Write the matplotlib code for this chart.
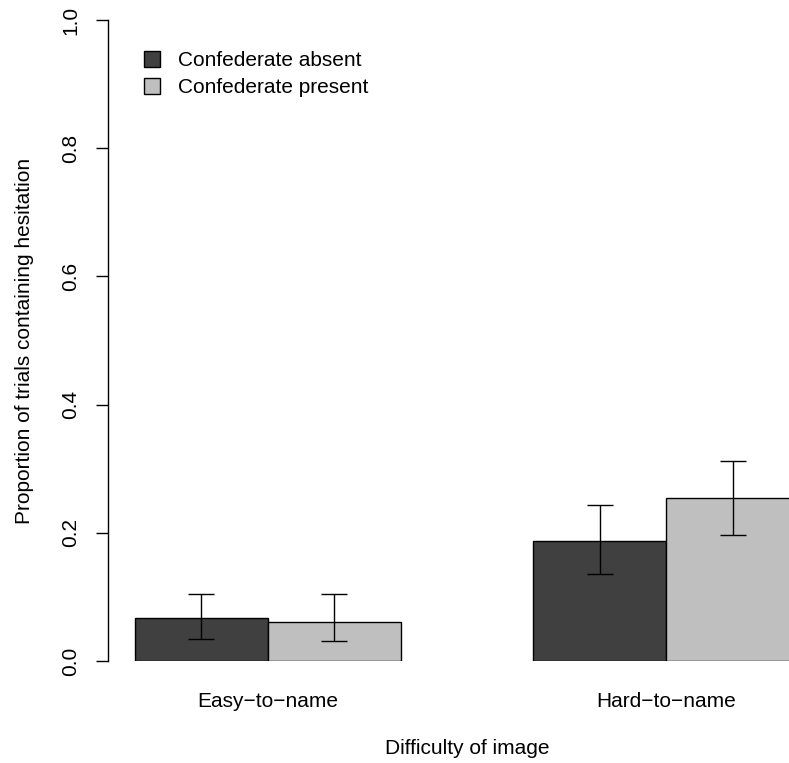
import matplotlib
matplotlib.use("Agg")
import matplotlib.pyplot as plt
from matplotlib.patches import Patch
import numpy as np

plt.rcParams['font.family'] = ['Liberation Sans', 'DejaVu Sans']

categories = ["Easy\u2212to\u2212name", "Hard\u2212to\u2212name"]
series_names = ["Confederate absent", "Confederate present"]
absent = [0.067, 0.187]
present = [0.061, 0.254]
absent_lo = [0.035, 0.135]
absent_hi = [0.104, 0.244]
present_lo = [0.031, 0.197]
present_hi = [0.104, 0.312]
yticks = [0.0, 0.2, 0.4, 0.6, 0.8, 1.0]
colors = ["#404040", "#bfbfbf"]

W, H = 789, 763
fig = plt.figure(figsize=(W / 100, H / 100), dpi=100)

# plot region in pixels (R-style barplot with 4% x extension)
left_px, right_px = 108, 826
top_px, bottom_px = 20, 661
ax = fig.add_axes([left_px / W, 1 - bottom_px / H,
                   (right_px - left_px) / W, (bottom_px - top_px) / H])

# barplot(beside=TRUE) layout: width 1, space c(0, 1)
group_left = np.array([1.0, 4.0])
x_abs = group_left + 0.5
x_pre = group_left + 1.5

ax.bar(x_abs, absent, width=1.0, color=colors[0], edgecolor="black", linewidth=1.0, zorder=2)
ax.bar(x_pre, present, width=1.0, color=colors[1], edgecolor="black", linewidth=1.0, zorder=2)

for xs, vals, lo, hi in [(x_abs, absent, absent_lo, absent_hi),
                         (x_pre, present, present_lo, present_hi)]:
    vals = np.array(vals)
    yerr = np.array([vals - np.array(lo), np.array(hi) - vals])
    ax.errorbar(xs, vals, yerr=yerr, fmt="none", ecolor="black",
                elinewidth=1.0, capsize=9.5, capthick=1.0, zorder=3)

ax.set_xlim(0.8, 6.2)
ax.set_ylim(0, 1)

for s in ["top", "right", "bottom"]:
    ax.spines[s].set_visible(False)
ax.spines["left"].set_bounds(0, 1)
ax.spines["left"].set_linewidth(1.0)

ax.set_yticks(yticks)
ax.set_yticklabels([f"{v:.1f}" for v in yticks], rotation=90, va="center", fontsize=15)
ax.tick_params(axis="y", length=8.6, width=1.0, pad=11.5)

ax.set_xticks(group_left + 1.0)
ax.set_xticklabels(categories, fontsize=15)
ax.tick_params(axis="x", length=0, pad=22)

ax.set_xlabel("Difficulty of image", fontsize=15)
ax.set_ylabel("Proportion of trials containing hesitation", fontsize=15)
ax.xaxis.set_label_coords(((left_px + right_px) / 2 - left_px) / (right_px - left_px),
                          -(748 - bottom_px) / (bottom_px - top_px))
ax.xaxis.label.set_va("center")
ax.yaxis.set_label_coords(-(108 - 25) / (right_px - left_px), 0.5)
ax.yaxis.label.set_va("center")

handles = [Patch(facecolor=c, edgecolor="black", linewidth=1.0) for c in colors]
ax.legend(handles, series_names, loc="upper left", frameon=False, fontsize=15,
          handlelength=0.75, handleheight=0.75, handletextpad=0.85,
          labelspacing=0.38, borderaxespad=0,
          bbox_to_anchor=(136 / W, 1 - 43 / H), bbox_transform=fig.transFigure)

fig.savefig("out.png", dpi=100)
